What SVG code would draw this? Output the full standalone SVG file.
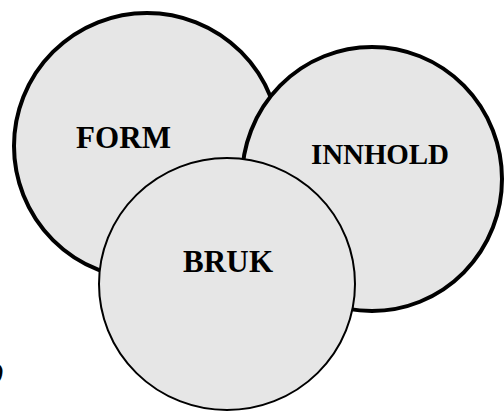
<svg xmlns="http://www.w3.org/2000/svg" width="504" height="412" viewBox="0 0 504 412">
<style>
.c{fill:#e6e6e6;stroke:#000}
.thick{stroke-width:4}
.thin{stroke-width:2}
.t{font-family:"Liberation Serif","Times New Roman",serif;font-weight:bold;fill:#000}
</style>
<rect width="504" height="412" fill="#fff"/>
<g id="form">
<ellipse class="c thick" cx="147" cy="146" rx="133" ry="133"/>
<text class="t" x="76" y="148" font-size="31" textLength="95">FORM</text>
</g>
<g id="innhold">
<ellipse class="c thick" cx="372" cy="179" rx="130" ry="132"/>
<text class="t" x="311" y="164" font-size="29" textLength="138">INNHOLD</text>
</g>
<g id="bruk">
<ellipse class="c thin" cx="227" cy="284" rx="128" ry="126"/>
<text class="t" x="183" y="272" font-size="31" textLength="90">BRUK</text>
</g>
<g id="connectors"></g>
<text class="t" x="-4" y="380" font-size="24" font-style="italic" font-weight="normal">)</text>
</svg>
